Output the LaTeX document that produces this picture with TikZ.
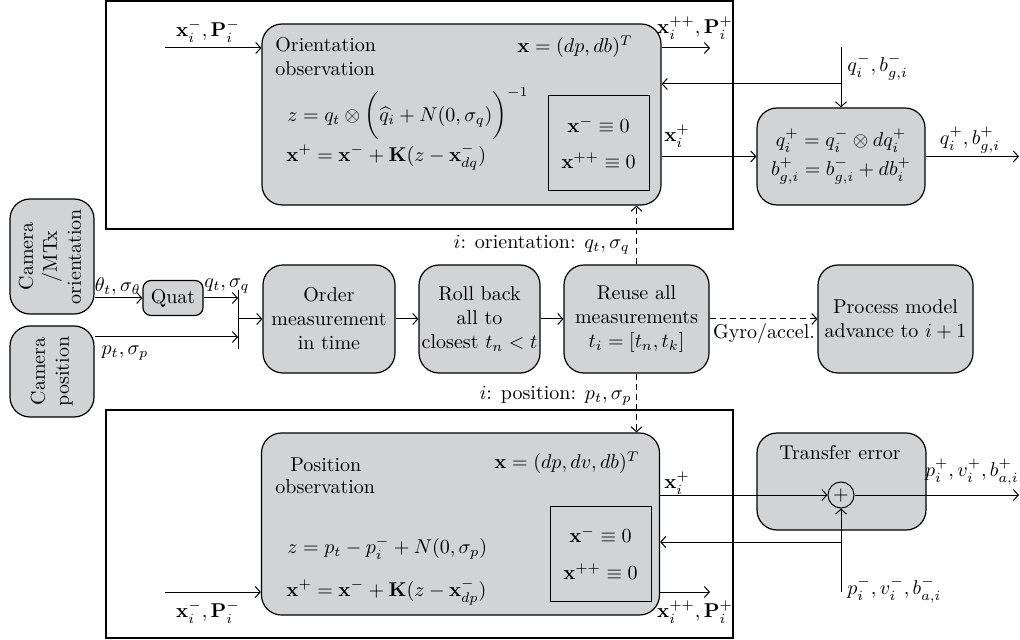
\documentclass[tikz,border=0pt]{standalone}
\usetikzlibrary{arrows.meta}
\definecolor{boxgray}{RGB}{209,211,212}
\begin{document}
\begin{tikzpicture}[x=0.5pt,y=-0.5pt,
  >={Straight Barb[length=2.5pt,width=5.5pt]},
  box/.style={draw, line width=0.6pt, fill=boxgray, rounded corners=10pt, inner sep=0pt, align=center},
  frame/.style={draw, line width=0.6pt},
  sq/.style={draw, line width=0.5pt, inner sep=0pt},
  conn/.style={line width=0.5pt, ->},
  dconn/.style={line width=0.5pt, ->, dash pattern=on 3pt off 2pt},
  lbl/.style={inner sep=0pt},
]
\useasboundingbox (0,0) rectangle (1020,640);

% outer frames
\draw[frame] (106,1) rectangle (733,229);
\draw[frame] (106,410) rectangle (733,638);

% main observation boxes
\node[box, minimum width=199.5pt, minimum height=90.5pt] (ori) at (461.5,114.5) {};
\node[box, minimum width=199pt, minimum height=91pt] (pos) at (460.5,524) {};

% inner squares
\node[sq, minimum width=50.5pt, minimum height=47.5pt] (sq1) at (598.5,143.5) {};
\node[sq, minimum width=50.5pt, minimum height=47.5pt] (sq2) at (600.5,553.5) {};

% texts orientation box
\node[lbl, anchor=west, align=left] (oritxt) at (275,56.5) {Orientation\\observation};
\node[lbl] (orix) at (575,47) {$\mathbf{x} = (dp, db)^T$};
\node[lbl, anchor=west] (orieq1) at (287,114) {$z = q_t \otimes \biggl(\widehat{q}_i + N(0,\sigma_q)\biggr)^{-1}$};
\node[lbl, anchor=west] (orieq2) at (286,157) {$\mathbf{x}^{+} = \mathbf{x}^{-} + \mathbf{K}(z - \mathbf{x}^{-}_{dq})$};
\node[lbl] (sq1a) at (sq1.center |- 0,125) {$\mathbf{x}^{-}\equiv 0$};
\node[lbl] (sq1b) at (sq1.center |- 0,161) {$\mathbf{x}^{++}\equiv 0$};

% texts position box
\node[lbl, anchor=west] (postxt1) at (290,465) {Position};
\node[lbl, anchor=west] (postxt2) at (275,487) {observation};
\node[lbl] (posx) at (567,463) {$\mathbf{x} = (dp, dv, db)^T$};
\node[lbl, anchor=west] (poseq1) at (287,548) {$z = p_t - p_i^{-} + N(0,\sigma_p)$};
\node[lbl, anchor=west] (poseq2) at (286,592) {$\mathbf{x}^{+} = \mathbf{x}^{-} + \mathbf{K}(z - \mathbf{x}^{-}_{dp})$};
\node[lbl] (sq2a) at (sq2.center |- 0,535) {$\mathbf{x}^{-}\equiv 0$};
\node[lbl] (sq2b) at (sq2.center |- 0,572) {$\mathbf{x}^{++}\equiv 0$};

% right side boxes
\node[box, minimum width=84pt, minimum height=48.5pt] (qupd) at (841,156.5)
  {$q_i^{+} = q_i^{-} \otimes dq_i^{+}$\\[2.5pt]$b_{g,i}^{+} = b_{g,i}^{-} + db_i^{+}$};
\node[box, minimum width=84.5pt, minimum height=48.5pt] (trans) at (841.5,481.5) {};
\node[lbl] (transtxt) at (840,453) {Transfer error};
\node[draw, circle, line width=0.5pt, minimum size=13pt, inner sep=0pt] (plus) at (841,495) {$+$};

% middle row
\node[box, minimum width=42pt, minimum height=57.5pt] (camo) at (52,256.5)
  {\rotatebox{90}{\begin{tabular}{@{}c@{}}Camera\\/MTx\\orientation\end{tabular}}};
\node[box, minimum width=42pt, minimum height=45.5pt] (campos) at (52,371.5)
  {\rotatebox{90}{\begin{tabular}{@{}c@{}}Camera\\position\end{tabular}}};
\node[box, rounded corners=4pt, minimum width=30pt, minimum height=17.5pt] (quat) at (173,298) {Quat};
\node[box, minimum width=66pt, minimum height=54pt] (order) at (329,319) {Order\\measurement\\in time};
\node[box, minimum width=60.5pt, minimum height=54pt] (roll) at (479.5,319) {Roll back\\all to\\closest $t_n < t$};
\node[box, minimum width=72.5pt, minimum height=54pt] (reuse) at (636.5,319) {Reuse all\\measurements\\$t_i = [t_n, t_k]$};
\node[box, minimum width=77.5pt, minimum height=54pt] (proc) at (895.5,319) {Process model\\advance to $i+1$};

% junction bar
\coordinate (bartop) at (238,290);
\coordinate (barbot) at (238,349);
\coordinate (barmid) at (238,319);
\draw[line width=0.5pt] (bartop) -- (barbot);

\draw[conn] (camo.east |- quat.west) -- (quat.west);
\node[lbl, anchor=east] (thlbl) at (141,287) {$\theta_t,\sigma_\theta$};
\draw[conn] (quat.east) -- (quat.east -| bartop);
\node[lbl, anchor=west] (qlbl) at (204,286) {$q_t,\sigma_q$};
\coordinate (pline) at ([yshift=17.25pt]campos.east);
\draw[conn] (pline) -- (pline -| bartop);
\node[lbl] (plbl) at (125,353) {$p_t,\sigma_p$};
\draw[conn] (barmid) -- (order.west);
\draw[conn] (order) -- (roll);
\draw[conn] (roll) -- (reuse);
\draw[dconn] (reuse) -- (proc);
\node[lbl] (gyro) at (764,334) {Gyro/accel.};

\draw[dconn] (reuse.north) -- (reuse.north |- ori.south);
\node[lbl, anchor=east] (orilbl) at (630,245) {$i$: orientation: $q_t,\sigma_q$};
\draw[dconn] (reuse.south) -- (reuse.south |- pos.north);
\node[lbl, anchor=east] (poslbl) at (632,396) {$i$: position: $p_t,\sigma_p$};

% top connectors
\coordinate (tin) at (165,48);
\draw[conn] (tin) -- (tin -| ori.west);
\node[lbl] (tinlbl) at (208,31) {$\mathbf{x}_i^{-},\mathbf{P}_i^{-}$};
\coordinate (tout) at (710,48);
\draw[conn] (tout -| ori.east) -- (tout);
\node[lbl] (toutlbl) at (695,28) {$\mathbf{x}_i^{++},\mathbf{P}_i^{+}$};
\coordinate (qin) at (841,47);
\coordinate (fb1) at (841,84);
\draw[conn] (qin) -- (qupd.north);
\draw[conn] (fb1) -- (fb1 -| ori.east);
\node[lbl, anchor=west] (qinlbl) at (847,67) {$q_i^{-},b_{g,i}^{-}$};
\draw[conn] (qupd.west -| ori.east) -- (qupd.west);
\node[lbl] (xplbl1) at (677,136) {$\mathbf{x}_i^{+}$};
\coordinate (qout) at (1019,156.5);
\draw[conn] (qupd.east) -- (qout);
\node[lbl] (qoutlbl) at (970,140) {$q_i^{+},b_{g,i}^{+}$};

% bottom connectors
\coordinate (bin) at (165,592);
\draw[conn] (bin) -- (bin -| pos.west);
\node[lbl] (binlbl) at (208,612) {$\mathbf{x}_i^{-},\mathbf{P}_i^{-}$};
\coordinate (bout) at (710,592);
\draw[conn] (bout -| pos.east) -- (bout);
\node[lbl] (boutlbl) at (695,612) {$\mathbf{x}_i^{++},\mathbf{P}_i^{+}$};
\draw[conn] (plus.west -| pos.east) -- (plus.west);
\node[lbl] (xplbl2) at (677,483) {$\mathbf{x}_i^{+}$};
\coordinate (pout) at (1019,495);
\draw[conn] (plus.east) -- (pout);
\node[lbl, anchor=east] (poutlbl) at (1019,472) {$p_i^{+}{,}\,v_i^{+}{,}\,b_{a,i}^{+}$};
\coordinate (pin) at (841,592);
\coordinate (fb2) at (841,542);
\draw[conn] (pin) -- (plus.south);
\draw[conn] (fb2) -- (fb2 -| pos.east);
\node[lbl, anchor=west] (pinlbl) at (847,590) {$p_i^{-},v_i^{-},b_{a,i}^{-}$};
\end{tikzpicture}
\end{document}
